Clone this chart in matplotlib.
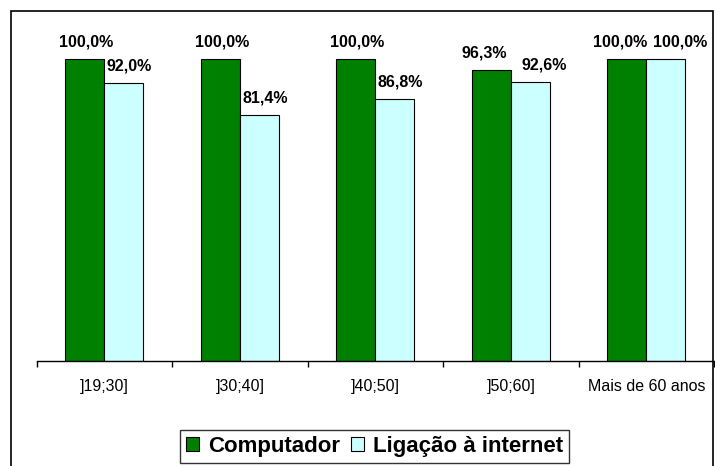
import numpy as np
import matplotlib
matplotlib.use("Agg")
import matplotlib.pyplot as plt
from matplotlib.patches import Rectangle

plt.rcParams['font.family'] = ['Liberation Sans', 'DejaVu Sans']

# age groups and share of households with each item (%)
categories = [']19;30]', ']30;40]', ']40;50]', ']50;60]', 'Mais de 60 anos']
computador = [100.0, 100.0, 100.0, 96.3, 100.0]
internet = [92.0, 81.4, 86.8, 92.6, 100.0]
series_names = ['Computador', 'Ligação à internet']

W, H = 715, 466
fig = plt.figure(figsize=(W / 100, H / 100), dpi=100)

# outer frame around the whole chart (bottom edge runs off the image)
fig.patches.append(Rectangle((11 / W, -0.05), (713 - 11) / W, (H - 11) / H + 0.05,
                             transform=fig.transFigure, fill=False,
                             edgecolor='black', linewidth=1.2))

ax = fig.add_axes([36.7 / W, (H - 361) / H, (714 - 36.7) / W, (361 - 20) / H])

x = np.arange(len(categories))
bw = 0.288
b1 = ax.bar(x - bw / 2, computador, bw, color='#008000', edgecolor='black',
            linewidth=0.8, label=series_names[0])
b2 = ax.bar(x + bw / 2, internet, bw, color='#CCFFFF', edgecolor='black',
            linewidth=0.8, label=series_names[1])

def fmt(v):
    return f"{v:.1f}%".replace('.', ',')

# value labels; spread them apart when the two bars are about the same height
for i in range(len(categories)):
    close = abs(computador[i] - internet[i]) < 5
    for rect, v, side in ((b1[i], computador[i], -1), (b2[i], internet[i], 1)):
        dx = 4 if side > 0 else 1
        if close:
            dx += 6 * side
        ax.annotate(fmt(v), (rect.get_x() + rect.get_width() / 2, v),
                    xytext=(dx, 9), textcoords='offset points',
                    ha='center', va='baseline', fontsize=11.5, fontweight='bold')

ax.set_xlim(-0.5, len(categories) - 0.5)
ax.set_ylim(0, 113)
for s in ('top', 'right', 'left'):
    ax.spines[s].set_visible(False)
ax.spines['bottom'].set_linewidth(1.0)
ax.set_yticks([])

# boundary ticks on the category axis, labels at the centres
ax.set_xticks(np.arange(-0.5, len(categories), 1.0))
ax.set_xticklabels([])
ax.tick_params(axis='x', which='major', direction='out', length=4, width=1)
ax.set_xticks(x, minor=True)
ax.set_xticklabels(categories, minor=True, fontsize=11.5)
ax.tick_params(axis='x', which='minor', length=0, pad=13)
ax.patch.set_alpha(0)

leg = fig.legend(handles=[b1, b2], loc='center', bbox_to_anchor=(374.5 / W, 19.5 / H),
                 ncol=2, prop={'weight': 'bold', 'size': 16},
                 frameon=True, fancybox=False, edgecolor='black',
                 handlelength=0.6, handleheight=0.6, handletextpad=0.4,
                 columnspacing=0.5, borderpad=0.25, borderaxespad=0)
leg.get_frame().set_linewidth(1.0)

fig.savefig('out.png', dpi=100)
